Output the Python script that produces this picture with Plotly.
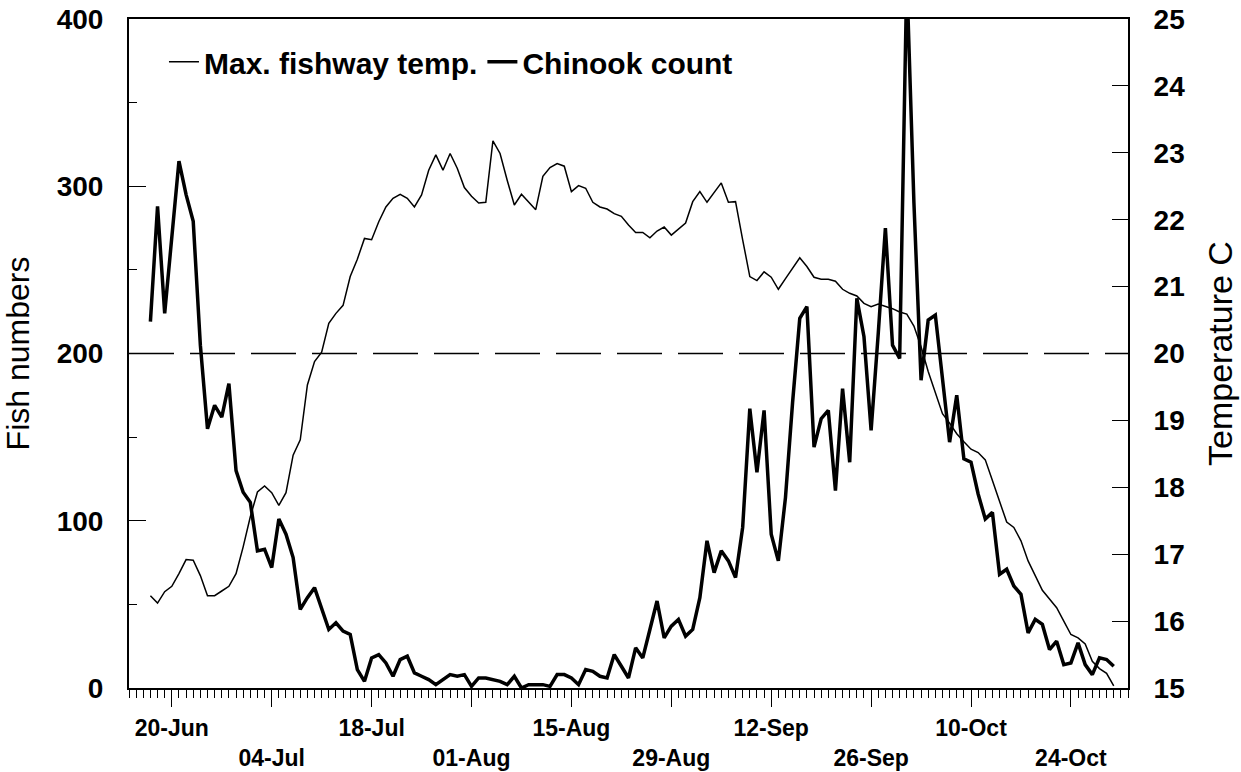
import pandas as pd
import plotly.graph_objects as go

# ---------------- data ----------------
START_DATE = "2002-06-17"   # first daily observation (17-Jun)

max_fishway_temp = [
    16.38, 16.27, 16.44, 16.52, 16.71, 16.92, 16.91, 16.68, 16.38, 16.38,
    16.45, 16.52, 16.71, 17.11, 17.56, 17.93, 18.02, 17.92, 17.73, 17.92,
    18.48, 18.71, 19.53, 19.88, 20.02, 20.45, 20.60, 20.72, 21.15, 21.41,
    21.72, 21.70, 21.97, 22.19, 22.32, 22.38, 22.32, 22.19, 22.37, 22.74,
    22.97, 22.74, 22.99, 22.77, 22.48, 22.35, 22.25, 22.26, 23.18, 22.99,
    22.59, 22.22, 22.38, 22.26, 22.15, 22.65, 22.78, 22.84, 22.80, 22.42,
    22.51, 22.47, 22.26, 22.19, 22.16, 22.09, 22.05, 21.92, 21.81, 21.81,
    21.73, 21.83, 21.89, 21.77, 21.86, 21.95, 22.27, 22.42, 22.26, 22.41,
    22.55, 22.26, 22.27, 21.70, 21.15, 21.09, 21.22, 21.14, 20.96, 21.12,
    21.27, 21.43, 21.30, 21.14, 21.11, 21.11, 21.08, 20.96, 20.90, 20.86,
    20.75, 20.70, 20.74, 20.71, 20.67, 20.62, 20.59, 20.41, 20.10, 19.73,
    19.42, 19.10, 18.96, 18.80, 18.68, 18.57, 18.52, 18.41, 18.10, 17.80,
    17.48, 17.40, 17.20, 16.90, 16.67, 16.46, 16.33, 16.20, 16.00, 15.80,
    15.75, 15.66, 15.40, 15.29, 15.22, 15.03,
]

chinook_count = [
    219, 288, 224, 268, 315, 295, 279, 205, 155, 169,
    162, 182, 130, 117, 111, 82, 83, 72, 101, 92,
    78, 47, 54, 60, 48, 35, 39, 34, 32, 11,
    4, 18, 20, 15, 7, 17, 19, 9, 7, 5,
    2, 5, 8, 7, 8, 1, 6, 6, 5, 4,
    2, 7, 0, 2, 2, 2, 1, 8, 8, 6,
    2, 11, 10, 7, 6, 20, 13, 6, 24, 18,
    35, 52, 30, 37, 41, 31, 35, 54, 88, 69,
    82, 76, 66, 96, 167, 129, 166, 92, 76, 114,
    171, 221, 228, 144, 161, 166, 118, 179, 135, 233,
    210, 154, 212, 275, 205, 197, 425, 290, 184, 220,
    223, 185, 147, 175, 137, 135, 116, 101, 105, 68,
    71, 61, 56, 33, 41, 38, 23, 28, 14, 15,
    27, 14, 8, 18, 17, 13,
]

tick_dates = ["2002-06-20", "2002-07-04", "2002-07-18", "2002-08-01", "2002-08-15",
              "2002-08-29", "2002-09-12", "2002-09-26", "2002-10-10", "2002-10-24"]
tick_labels = ["20-Jun", "04-Jul", "18-Jul", "01-Aug", "15-Aug",
               "29-Aug", "12-Sep", "26-Sep", "10-Oct", "24-Oct"]

x_range = ["2002-06-14", "2002-11-01"]
fish_ticks = [0, 100, 200, 300, 400]
threshold_fish = 200          # corresponds to 20 C on right axis

dates = pd.date_range(START_DATE, periods=len(chinook_count), freq="D")

FONT = "Liberation Sans, Arial, sans-serif"

fig = go.Figure()
fig.add_trace(go.Scatter(
    x=dates, y=max_fishway_temp, name="Max. fishway temp.", mode="lines",
    line=dict(color="black", width=1.5), yaxis="y2"))
fig.add_trace(go.Scatter(
    x=dates, y=chinook_count, name="Chinook count", mode="lines",
    line=dict(color="black", width=3.5), yaxis="y"))

fig.add_shape(type="line", xref="paper", x0=0, x1=1, yref="y",
              y0=threshold_fish, y1=threshold_fish,
              line=dict(color="black", width=1.3, dash="45px,16px"))

ticktext = [lab if i % 2 == 0 else " <br>" + lab for i, lab in enumerate(tick_labels)]

fig.update_layout(
    width=1241, height=772,
    margin=dict(l=129, r=113, t=19, b=84),
    plot_bgcolor="white", paper_bgcolor="white",
    font=dict(family=FONT, color="black"),
    legend=dict(orientation="h", x=0.035, xanchor="left", y=0.936, yanchor="middle",
                bgcolor="rgba(0,0,0,0)", font=dict(size=30, weight="bold"),
                itemwidth=30),
    xaxis=dict(
        type="date", range=x_range, automargin=False,
        tickmode="array", tickvals=tick_dates, ticktext=ticktext,
        ticks="outside", ticklen=17, tickwidth=1, tickcolor="black",
        tickfont=dict(size=23, weight="bold"), ticklabelstandoff=1,
        showline=True, linewidth=2, linecolor="black", mirror=True,
        showgrid=False, zeroline=False,
        minor=dict(ticks="outside", ticklen=8, tickwidth=1, tickcolor="black",
                   dtick=86400000, tick0="2002-06-14", showgrid=False),
    ),
    yaxis=dict(
        range=[0, 400], tickmode="array", tickvals=fish_ticks, automargin=False,
        ticks="inside", ticklen=17, tickwidth=1, tickcolor="black",
        tickfont=dict(size=28, weight="bold"), ticklabelstandoff=18,
        showline=True, linewidth=2, linecolor="black",
        showgrid=False, zeroline=False,
        minor=dict(ticks="inside", ticklen=8, tickwidth=1, tickcolor="black",
                   dtick=50, tick0=0, showgrid=False),
        title=dict(text="Fish numbers", font=dict(size=32), standoff=22),
    ),
    yaxis2=dict(
        range=[15, 25], dtick=1, tick0=15, overlaying="y", side="right",
        automargin=False,
        ticks="inside", ticklen=16, tickwidth=1, tickcolor="black",
        tickfont=dict(size=28, weight="bold"), ticklabelstandoff=18,
        showline=True, linewidth=2, linecolor="black",
        showgrid=False, zeroline=False,
        title=dict(text="Temperature C", font=dict(size=34), standoff=24),
    ),
)

fig.write_html("out.html",
               config={"displayModeBar": False},
               post_script="document.body.style.margin='0px';document.body.style.overflow='hidden';")
